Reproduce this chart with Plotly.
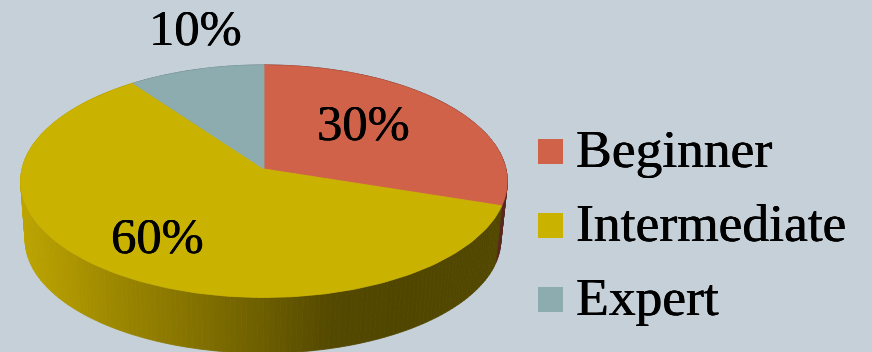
import numpy as np
import plotly.graph_objects as go

# Chart data
categories = ["Beginner", "Intermediate", "Expert"]
shares = [30, 60, 10]

# Styling
BACKGROUND = "#C5D0D8"
FACE_COLORS = ["#D0624A", "#C9B200", "#8CACB0"]
WALL_COLORS = ["#5A2A22", None, "#5A6E70"]
GOLD_RAMP_X = [20, 60, 110, 190, 260, 330, 400, 510]
GOLD_RAMP_RGB = [
    (188, 164, 0), (176, 153, 0), (158, 136, 0), (133, 115, 0),
    (110, 95, 0), (84, 73, 0), (80, 70, 0), (84, 73, 0),
]
SERIF = "Liberation Serif"
TEXT_WEIGHT = "0.45px 0 0 #000000, -0.25px 0 0 #000000"
WIDTH, HEIGHT = 872, 352

# Perspective disc: apex position, radius, vertical reach, foreshortening
TOP_DISC = dict(x0=264, y0=169, r=242, a=115, c=0.105)
BASE_DISC = dict(x0=263, y0=228, r=236.5, a=112, c=0.105)


def project(disc, theta):
    """Map clockwise-from-north angles on a disc to canvas coordinates."""
    u, v = np.sin(theta), np.cos(theta)
    w = 1 + disc["c"] * v
    return disc["x0"] + disc["r"] * u / w, disc["y0"] - disc["a"] * v / w


def gold_at(x):
    rgb = [np.interp(x, GOLD_RAMP_X, [c[i] for c in GOLD_RAMP_RGB]) for i in range(3)]
    return "rgb({:.0f},{:.0f},{:.0f})".format(*rgb)


def polygon(xs, ys, color):
    return go.Scatter(
        x=xs, y=ys, mode="lines", fill="toself", fillcolor=color,
        line=dict(color=color, width=0.8), hoverinfo="skip", showlegend=False,
    )


edges = np.radians(np.cumsum([0] + shares) / sum(shares) * 360)
fig = go.Figure()

# Outer wall, drawn as narrow vertical strips so the shading can vary along it
for i, (start, end) in enumerate(zip(edges[:-1], edges[1:])):
    steps = max(2, int(np.degrees(end - start) / 1.2))
    ticks = np.linspace(start, end, steps + 1)
    for t0, t1 in zip(ticks[:-1], ticks[1:]):
        seg = np.array([t0, t1])
        xt, yt = project(TOP_DISC, seg)
        xb, yb = project(BASE_DISC, seg[::-1])
        color = WALL_COLORS[i] or gold_at(xt.mean())
        fig.add_trace(polygon(
            list(xt) + list(xb) + [xt[0]],
            list(yt) + list(yb) + [yt[0]],
            color,
        ))

# Top faces of the slices
for i, (start, end) in enumerate(zip(edges[:-1], edges[1:])):
    arc = np.linspace(start, end, 160)
    xa, ya = project(TOP_DISC, arc)
    fig.add_trace(polygon(
        [TOP_DISC["x0"], *xa, TOP_DISC["x0"]],
        [TOP_DISC["y0"], *ya, TOP_DISC["y0"]],
        FACE_COLORS[i],
    ))

# Legend swatches
LEGEND_Y = [151.5, 225.5, 299.5]
fig.add_trace(go.Scatter(
    x=[550.5] * 3, y=LEGEND_Y, mode="markers",
    marker=dict(symbol="square", size=25, color=FACE_COLORS, line=dict(width=0)),
    hoverinfo="skip", showlegend=False,
))

annotations = [
    dict(x=573.5, y=yy - 3, text=name, xanchor="left", yanchor="middle",
         font=dict(size=53.5))
    for name, yy in zip(categories, LEGEND_Y)
]
# Percentage labels, in slice order
LABEL_POS = [(363, 123), (157, 236), (195, 28)]
annotations += [
    dict(x=px, y=py, text=f"{s}%", xanchor="center", yanchor="middle",
         font=dict(size=50.5))
    for s, (px, py) in zip(shares, LABEL_POS)
]
for ann in annotations:
    ann.update(showarrow=False, xref="x", yref="y")
    ann["font"].update(family=SERIF, color="#000000", shadow=TEXT_WEIGHT)

fig.update_layout(
    width=WIDTH, height=HEIGHT, margin=dict(l=0, r=0, t=0, b=0),
    paper_bgcolor=BACKGROUND, plot_bgcolor=BACKGROUND, showlegend=False,
    annotations=annotations,
    xaxis=dict(range=[0, WIDTH], visible=False, fixedrange=True),
    yaxis=dict(range=[HEIGHT, 0], visible=False, fixedrange=True),
)
fig.write_html("out.html", config=dict(displayModeBar=False))
